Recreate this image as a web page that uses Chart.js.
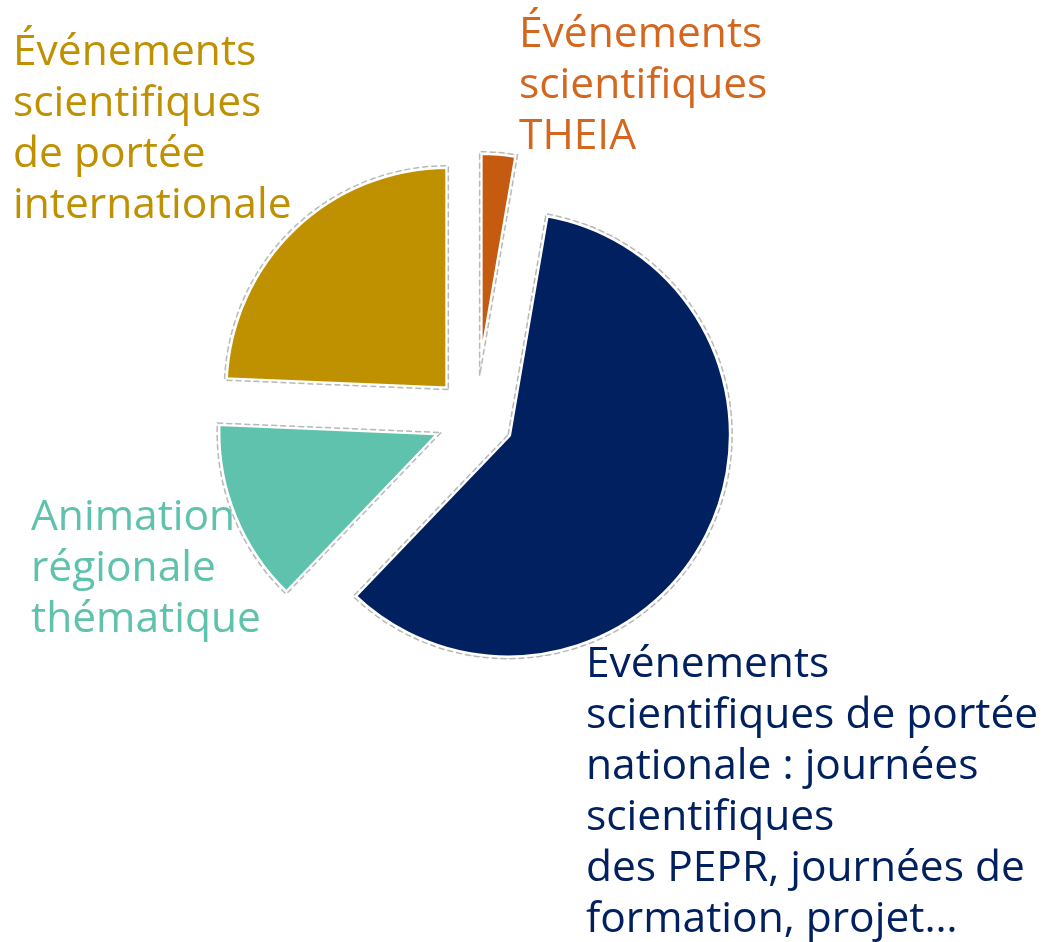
<!DOCTYPE html>
<html>
<head>
<meta charset="utf-8">
<script src="https://cdn.jsdelivr.net/npm/chart.js@4.4.1/dist/chart.umd.min.js"></script>
<style>
  html, body { margin: 0; padding: 0; background: #ffffff; }
  #wrap { width: 1050px; height: 942px; position: relative; }
</style>
</head>
<body>
<div id="wrap"><canvas id="events" width="1050" height="942"></canvas></div>
<script>
// Event types (clockwise from 12 o'clock) and how many of each
const categories = [
  'Événements scientifiques THEIA',
  'Événements scientifiques de portée nationale',
  'Animation régionale thématique',
  'Événements scientifiques de portée internationale'
];
const eventCounts = [1, 22, 5, 9];

// Slice fills and label colours
const sliceColors = ['#C55A11', '#002060', '#5EC2AC', '#BF9000'];
const labelColors = ['#D4671F', '#002060', '#5EC2AC', '#BF9000'];

// Label text, one entry per line
const labelLines = [
  ['Événements', 'scientifiques', 'THEIA'],
  ['Evénements', 'scientifiques de portée', 'nationale : journées', 'scientifiques', 'des PEPR, journées de', 'formation, projet…'],
  ['Animation', 'régionale', 'thématique'],
  ['Événements', 'scientifiques', 'de portée', 'internationale']
];

// Layout of the labels (left x, first baseline) and how far each slice is pulled out
const labelAnchors = [[519, 47], [586, 677], [31, 530], [13, 65]];
const labelLineHeight = 51;
const sliceShift = [43, 36, 37.6, 40];

// Draws the slices pulled out along their mid-angle, each with a light dashed outline
const explodedSlices = {
  id: 'explodedSlices',
  beforeDatasetsDraw(chart) {
    const ctx = chart.ctx;
    const meta = chart.getDatasetMeta(0);
    meta.data.forEach((arc, i) => {
      const mid = (arc.startAngle + arc.endAngle) / 2;
      const d = sliceShift[i] || 0;
      ctx.save();
      ctx.translate(Math.cos(mid) * d, Math.sin(mid) * d);
      arc.draw(ctx);
      ctx.beginPath();
      ctx.moveTo(arc.x, arc.y);
      ctx.arc(arc.x, arc.y, arc.outerRadius, arc.startAngle, arc.endAngle);
      ctx.closePath();
      ctx.setLineDash([6, 3]);
      ctx.lineWidth = 1.5;
      ctx.lineJoin = 'miter';
      ctx.strokeStyle = '#b8b8b8';
      ctx.stroke();
      ctx.restore();
    });
    return false;
  }
};

// Multi-line category labels around the pie
const sliceLabels = {
  id: 'sliceLabels',
  afterDraw(chart) {
    const ctx = chart.ctx;
    ctx.save();
    ctx.font = '42.5px "Open Sans"';
    ctx.textAlign = 'left';
    ctx.textBaseline = 'alphabetic';
    labelLines.forEach((lines, i) => {
      const [x, y] = labelAnchors[i];
      ctx.fillStyle = labelColors[i];
      lines.forEach((line, k) => ctx.fillText(line, x, y + k * labelLineHeight));
    });
    ctx.restore();
  }
};

function build() {
  new Chart(document.getElementById('events'), {
    type: 'pie',
    data: {
      labels: categories,
      datasets: [{
        data: eventCounts,
        backgroundColor: sliceColors,
        borderColor: '#ffffff',
        borderWidth: 3,
        borderAlign: 'inner'
      }]
    },
    options: {
      responsive: false,
      devicePixelRatio: 1,
      animation: false,
      radius: 224,
      layout: { padding: { left: 0, right: 98, top: 0, bottom: 105 } },
      plugins: {
        legend: { display: false },
        tooltip: { enabled: false }
      }
    },
    plugins: [explodedSlices, sliceLabels]
  });
}

if (document.fonts && document.fonts.load) {
  document.fonts.load('42.5px "Open Sans"').then(build, build);
} else {
  build();
}
</script>
</body>
</html>
